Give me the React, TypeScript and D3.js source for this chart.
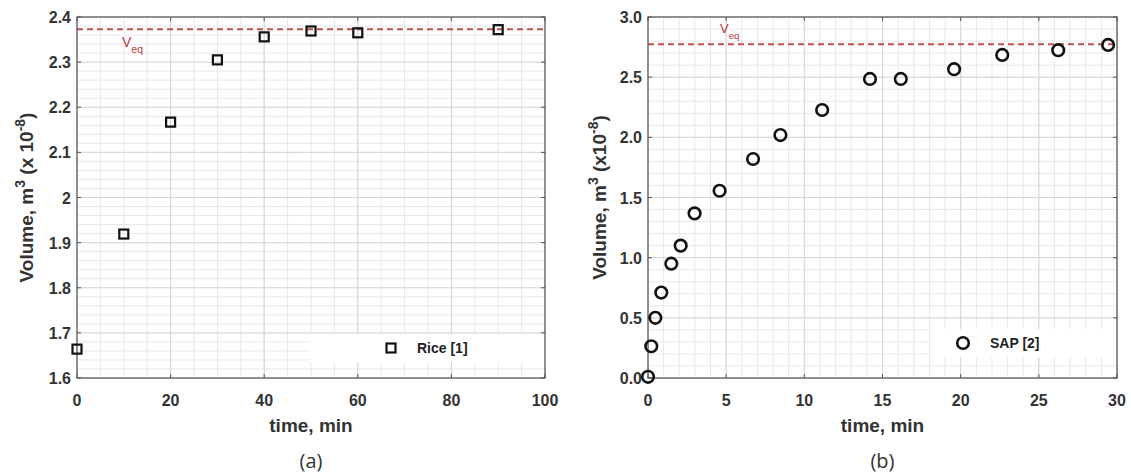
import * as d3 from "d3";

// Panel (a): rice
const riceTime = [0, 10, 20, 30, 40, 50, 60, 90];
const riceVolume = [1.664, 1.919, 2.167, 2.305, 2.356, 2.369, 2.365, 2.372];
const riceVeq = 2.373;
const riceXTicks = [0, 20, 40, 60, 80, 100];
const riceYTicks = [1.6, 1.7, 1.8, 1.9, 2.0, 2.1, 2.2, 2.3, 2.4];

// Panel (b): SAP
const sapTime = [0, 0.21, 0.47, 0.85, 1.49, 2.09, 2.98, 4.58, 6.72, 8.47, 11.14, 14.2, 16.17, 19.58, 22.66, 26.24, 29.43];
const sapVolume = [0.01, 0.264, 0.5, 0.71, 0.95, 1.1, 1.368, 1.556, 1.82, 2.019, 2.227, 2.485, 2.485, 2.566, 2.685, 2.724, 2.768];
const sapVeq = 2.774;
const sapXTicks = [0, 5, 10, 15, 20, 25, 30];
const sapYTicks = [0, 0.5, 1.0, 1.5, 2.0, 2.5, 3.0];

const FONT = "'Liberation Sans', Arial, sans-serif";
const RED = "#c0504d";

type PanelProps = {
  left: number;
  right: number;
  top: number;
  bottom: number;
  xDomain: [number, number];
  yDomain: [number, number];
  xTicks: number[];
  yTicks: number[];
  xMinorStep: number;
  yMinorStep: number;
  yFormat: (v: number) => string;
  xs: number[];
  ys: number[];
  veq: number;
  veqPos: { x: number; dy: number; size: number };
  marker: "square" | "circle";
  legendText: string;
  legendBox: { x0: number; x1: number; y: number; h: number; mx: number; tx: number };
  yLabel: string;
  yLabelX: number;
  caption: string;
};

const Marker = ({ type, x, y }: { type: string; x: number; y: number }) =>
  type === "square" ? (
    <rect x={x - 4.5} y={y - 4.5} width={9} height={9} fill="none" stroke="#111" strokeWidth={2.2} />
  ) : (
    <circle cx={x} cy={y} r={5.8} fill="none" stroke="#111" strokeWidth={2.6} />
  );

const Panel = (p: PanelProps) => {
  const x = d3.scaleLinear().domain(p.xDomain).range([p.left, p.right]);
  const y = d3.scaleLinear().domain(p.yDomain).range([p.bottom, p.top]);

  const xMinor = d3.range(p.xDomain[0], p.xDomain[1] + 1e-9, p.xMinorStep);
  const yMinor = d3.range(p.yDomain[0], p.yDomain[1] + 1e-9, p.yMinorStep);
  const cx = (p.left + p.right) / 2;
  const cy = (p.top + p.bottom) / 2;
  const lb = p.legendBox;

  return (
    <g fontFamily={FONT}>
      <rect x={p.left} y={p.top} width={p.right - p.left} height={p.bottom - p.top} fill="#fff" />
      {xMinor.map((v, i) => (
        <line key={"xm" + i} x1={x(v)} x2={x(v)} y1={p.top} y2={p.bottom} stroke="#e8e8e8" strokeWidth={1} />
      ))}
      {yMinor.map((v, i) => (
        <line key={"ym" + i} x1={p.left} x2={p.right} y1={y(v)} y2={y(v)} stroke="#e8e8e8" strokeWidth={1} />
      ))}
      {p.xTicks.map((v) => (
        <line key={"xg" + v} x1={x(v)} x2={x(v)} y1={p.top} y2={p.bottom} stroke="#d6d6d6" strokeWidth={1} />
      ))}
      {p.yTicks.map((v) => (
        <line key={"yg" + v} x1={p.left} x2={p.right} y1={y(v)} y2={y(v)} stroke="#d6d6d6" strokeWidth={1} />
      ))}

      {/* legend background */}
      <rect x={lb.x0} y={lb.y - lb.h / 2} width={lb.x1 - lb.x0} height={lb.h} fill="#fff" />

      {/* equilibrium line */}
      <line x1={p.left} x2={p.right} y1={y(p.veq)} y2={y(p.veq)} stroke={RED} strokeWidth={2} strokeDasharray="6,4" />
      <text x={p.veqPos.x} y={y(p.veq) + p.veqPos.dy} fill="#b53a3a" fontSize={p.veqPos.size}>
        V
        <tspan fontSize={p.veqPos.size * 0.75} dy={p.veqPos.size * 0.45}>eq</tspan>
      </text>

      {/* ticks */}
      {p.xTicks.map((v) => (
        <g key={"xt" + v}>
          <line x1={x(v)} x2={x(v)} y1={p.bottom} y2={p.bottom - 4} stroke="#555" />
          <line x1={x(v)} x2={x(v)} y1={p.top} y2={p.top + 4} stroke="#555" />
          <text x={x(v)} y={p.bottom + 28} textAnchor="middle" fontSize={16} fontWeight="bold" fill="#333">
            {v}
          </text>
        </g>
      ))}
      {p.yTicks.map((v) => (
        <g key={"yt" + v}>
          <line x1={p.left} x2={p.left + 4} y1={y(v)} y2={y(v)} stroke="#555" />
          <line x1={p.right} x2={p.right - 4} y1={y(v)} y2={y(v)} stroke="#555" />
          <text x={p.left - 6} y={y(v) + 6} textAnchor="end" fontSize={16} fontWeight="bold" fill="#333">
            {p.yFormat(v)}
          </text>
        </g>
      ))}
      <rect x={p.left} y={p.top} width={p.right - p.left} height={p.bottom - p.top} fill="none" stroke="#555" strokeWidth={1.2} />

      {/* data */}
      {p.xs.map((v, i) => (
        <Marker key={"pt" + i} type={p.marker} x={x(v)} y={y(p.ys[i])} />
      ))}

      {/* legend */}
      <Marker type={p.marker} x={lb.mx} y={lb.y} />
      <text x={lb.tx} y={lb.y + 5} fontSize={14} fontWeight="bold" fill="#222">
        {p.legendText}
      </text>

      {/* axis labels */}
      <text x={cx} y={p.bottom + 54} textAnchor="middle" fontSize={19} fontWeight="bold" fill="#333">
        time, min
      </text>
      <text
        transform={`translate(${p.yLabelX},${cy}) rotate(-90)`}
        textAnchor="middle"
        fontSize={19}
        fontWeight="bold"
        fill="#333"
      >
        Volume, m
        <tspan dy={-8} fontSize={14}>3</tspan>
        <tspan dy={8}>{" " + p.yLabel + "10"}</tspan>
        <tspan dy={-8} fontSize={14}>-8</tspan>
        <tspan dy={8}>)</tspan>
      </text>
      <text x={cx} y={p.bottom + 90} textAnchor="middle" fontSize={20} fill="#333" fontFamily="'Open Sans', sans-serif">
        {p.caption}
      </text>
    </g>
  );
};

export default function App() {
  return (
    <svg
      width={1131}
      height={475}
      style={{ position: "absolute", left: 0, top: 0, background: "#fff" }}
    >
      <rect width={1131} height={475} fill="#fff" />
      <Panel
        left={77}
        right={545}
        top={17}
        bottom={378}
        xDomain={[0, 100]}
        yDomain={[1.6, 2.4]}
        xTicks={riceXTicks}
        yTicks={riceYTicks}
        xMinorStep={5}
        yMinorStep={0.02}
        yFormat={(v) => String(Math.round(v * 10) / 10)}
        xs={riceTime}
        ys={riceVolume}
        veq={riceVeq}
        veqPos={{ x: 122, dy: 18, size: 14 }}
        marker="square"
        legendText="Rice [1]"
        legendBox={{ x0: 310, x1: 544, y: 348, h: 28, mx: 391, tx: 417 }}
        yLabel="(x "
        yLabelX={33}
        caption="(a)"
      />
      <Panel
        left={648}
        right={1117}
        top={17}
        bottom={378}
        xDomain={[0, 30]}
        yDomain={[0, 3]}
        xTicks={sapXTicks}
        yTicks={sapYTicks}
        xMinorStep={1}
        yMinorStep={0.1}
        yFormat={(v) => v.toFixed(1)}
        xs={sapTime}
        ys={sapVolume}
        veq={sapVeq}
        veqPos={{ x: 720, dy: -11, size: 13 }}
        marker="circle"
        legendText="SAP [2]"
        legendBox={{ x0: 930, x1: 1116, y: 343, h: 28, mx: 963, tx: 990 }}
        yLabel="(x"
        yLabelX={606}
        caption="(b)"
      />
    </svg>
  );
}
